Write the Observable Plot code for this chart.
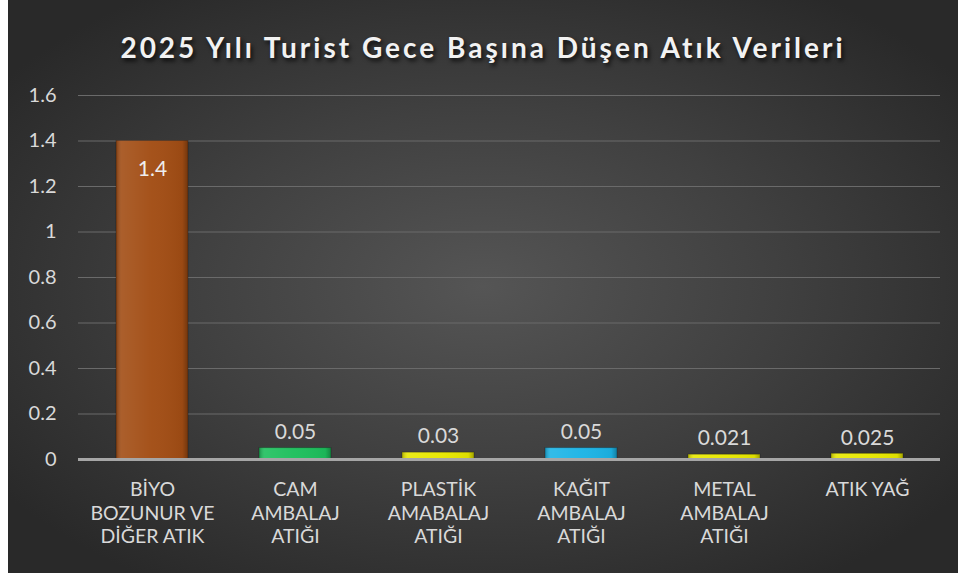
<!DOCTYPE html>
<html>
<head>
<meta charset="utf-8">
<script src="https://cdn.jsdelivr.net/npm/d3@7"></script>
<script src="https://cdn.jsdelivr.net/npm/@observablehq/plot@0.6"></script>
<style>
  html, body { margin: 0; padding: 0; background: #ffffff; }
  #wrap {
    position: absolute; left: 8px; top: 0; width: 950px; height: 573px;
    background: radial-gradient(ellipse 62% 62% at 50% 50%, #555555 0%, #404040 50%, #292929 100%);
    font-family: Lato, "Open Sans", sans-serif;
    overflow: hidden;
  }
  #title {
    height: 75px; line-height: 94px; text-align: center;
    color: #f2f2f2; font-weight: 700; font-size: 28px; letter-spacing: 3px;
    text-shadow: 2px 3px 4px rgba(0,0,0,0.75);
  }
</style>
</head>
<body>
<div id="wrap"><div id="title">2025 Yılı Turist Gece Başına Düşen Atık Verileri</div><div id="chart"></div></div>
<script>
const categories = [
  "BİYO\nBOZUNUR VE\nDİĞER ATIK",
  "CAM\nAMBALAJ\nATIĞI",
  "PLASTİK\nAMABALAJ\nATIĞI",
  "KAĞIT\nAMBALAJ\nATIĞI",
  "METAL\nAMBALAJ\nATIĞI",
  "ATIK YAĞ"
];
const values = [1.4, 0.05, 0.03, 0.05, 0.021, 0.025];
const valueLabels = ["1.4", "0.05", "0.03", "0.05", "0.021", "0.025"];
const yTicks = [0, 0.2, 0.4, 0.6, 0.8, 1, 1.2, 1.4, 1.6];
const barColors = ["#a24d14", "#1dbf5c", "#e8e800", "#1cb4e6", "#e8e800", "#e8e800"];

const data = categories.map((c, i) => ({cat: c, value: values[i], label: valueLabels[i]}));

const chart = Plot.plot({
  width: 950,
  height: 498,
  marginTop: 20,
  marginBottom: 114,
  marginLeft: 70,
  marginRight: 18,
  style: {background: "transparent", fontFamily: "Lato, 'Open Sans', sans-serif", color: "#d9d9d9", overflow: "visible"},
  x: {domain: categories, paddingInner: 0.5, paddingOuter: 0.25, label: null},
  y: {domain: [0, 1.6], label: null},
  color: {domain: categories, range: barColors},
  marks: [
    () => {
      const ns = "http://www.w3.org/2000/svg";
      const defs = document.createElementNS(ns, "defs");
      defs.innerHTML = `
        <linearGradient id="shadeH" x1="0" x2="1" y1="0" y2="0">
          <stop offset="0" stop-color="#000" stop-opacity="0.25"/>
          <stop offset="0.08" stop-color="#fff" stop-opacity="0.10"/>
          <stop offset="0.5" stop-color="#fff" stop-opacity="0.03"/>
          <stop offset="0.92" stop-color="#000" stop-opacity="0.05"/>
          <stop offset="1" stop-color="#000" stop-opacity="0.3"/>
        </linearGradient>`;
      return defs;
    },
    Plot.gridY(yTicks, {stroke: "#6a6a6a", strokeOpacity: 1, strokeWidth: 1}),
    Plot.barY(data, {x: "cat", y: "value", fill: "cat", stroke: "#000", strokeOpacity: 0.25, strokeWidth: 1}),
    Plot.barY(data, {x: "cat", y: "value", fill: "url(#shadeH)"}),
    Plot.ruleY([0], {stroke: "#a6a6a6", strokeWidth: 3}),
    Plot.axisY({ticks: yTicks, tickSize: 0, tickPadding: 22, fontSize: 20, fill: "#d9d9d9", tickFormat: d => String(d)}),
    Plot.axisX({tickSize: 0, tickPadding: 19, fontSize: 19.5, lineHeight: 1.23, fill: "#d9d9d9", lineAnchor: "top"}),
    Plot.text(data.filter(d => d.value > 0.5), {x: "cat", y: "value", text: "label", dy: 28, fontSize: 21, fill: "#eeeeee"}),
    Plot.text(data.filter(d => d.value <= 0.5), {x: "cat", y: "value", text: "label", dy: -16, fontSize: 21, fill: "#d9d9d9"})
  ]
});
document.getElementById("chart").appendChild(chart);
</script>
</body>
</html>
